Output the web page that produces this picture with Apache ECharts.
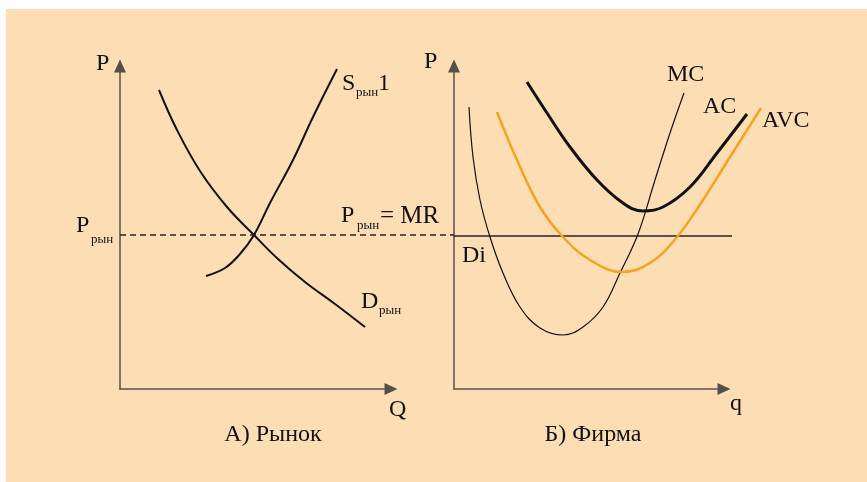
<!DOCTYPE html>
<html>
<head>
<meta charset="utf-8">
<script src="https://cdn.jsdelivr.net/npm/echarts@6/dist/echarts.min.js"></script>
<style>
  html, body { margin: 0; padding: 0; background: #fff; }
  #chart { width: 867px; height: 482px; }
</style>
</head>
<body>
<div id="chart"></div>
<script>
// A) market: [Q, P]
var demandMarket = [[39, 299], [57, 259], [80, 218], [107, 182], [134, 154], [158, 130], [185, 107], [215, 85], [245, 62]];
var supplyMarket = [[86, 113], [105, 121], [120, 135], [134, 154], [150, 186], [173, 229], [193, 272], [217, 320]];
var priceMarket = [[0, 154], [334, 154]];

// B) firm: [q, P]
var mcFirm = [[15, 282], [19, 232], [26, 189], [36, 152], [49, 116], [66, 82], [86, 61], [109, 54], [129, 62], [149, 82], [166, 116], [184, 155], [201, 209], [216, 256], [230, 296]];
var acFirm = [[73, 307], [93, 276], [116, 242], [143, 209], [169, 186], [189, 178], [209, 182], [236, 202], [263, 236], [293, 275]];
var avcFirm = [[43, 277], [63, 229], [86, 182], [109, 152], [136, 129], [168, 117], [196, 126], [223, 152], [249, 189], [276, 232], [307, 281]];
var mrFirm = [[0, 153], [278, 153]];

var chart = echarts.init(document.getElementById("chart"), null, { renderer: "canvas" });

var serif = "Liberation Serif";
var axisColor = "#56504a";

// visible axes with arrows
function axisShown(idx, max) {
  return {
    type: "value", gridIndex: idx, min: 0, max: max,
    axisLine: { show: true, symbol: ["none", "triangle"], symbolSize: [12, 13], lineStyle: { color: axisColor, width: 1.5 } },
    axisTick: { show: false }, axisLabel: { show: false }, splitLine: { show: false }
  };
}
// hidden axes for the curves (wider, so lines may run past the arrows)
function axisHidden(idx, max) {
  return { type: "value", gridIndex: idx, min: 0, max: max, show: false, splitLine: { show: false } };
}

function txt(x, y, s, size, align) {
  return {
    type: "text", x: x, y: y, z: 50,
    style: { text: s, font: size + "px '" + serif + "'", fill: "#111", align: align || "left", verticalAlign: "middle" }
  };
}

function curve(name, grid, data, color, width, extra) {
  var s = {
    name: name, type: "line", xAxisIndex: grid, yAxisIndex: grid, data: data,
    symbol: "none", smooth: 0.4, lineStyle: { color: color, width: width }
  };
  return Object.assign(s, extra || {});
}

var option = {
  backgroundColor: "#fff",
  animation: false,
  grid: [
    { left: 120, top: 66, width: 271, height: 323 },
    { left: 454, top: 66, width: 270, height: 323 },
    { left: 120, top: 66, width: 340, height: 323 },
    { left: 454, top: 66, width: 340, height: 323 }
  ],
  xAxis: [axisShown(0, 271), axisShown(1, 270), axisHidden(2, 340), axisHidden(3, 340)],
  yAxis: [axisShown(0, 323), axisShown(1, 323), axisHidden(2, 323), axisHidden(3, 323)],
  series: [
    curve("D", 2, demandMarket, "#111", 2),
    curve("S", 2, supplyMarket, "#111", 2),
    curve("P", 2, priceMarket, "#222", 1.3, { smooth: false, lineStyle: { color: "#222", width: 1.3, type: [6, 4] } }),
    curve("MR", 3, mrFirm, "#222", 1.5, { smooth: false }),
    curve("MC", 3, mcFirm, "#111", 1.2),
    curve("AVC", 3, avcFirm, "#f4a31e", 2.5),
    curve("AC", 3, acFirm, "#111", 3)
  ],
  graphic: [
    { type: "rect", x: 6, y: 9, z: -10, shape: { width: 861, height: 473 }, style: { fill: "#fddeb4" } },
    txt(96, 64, "P", 24),
    txt(424, 62, "P", 24),
    txt(342, 84, "S", 24), txt(356, 93, "рын", 13), txt(378, 84, "1", 24),
    txt(76, 226, "P", 24), txt(91, 240, "рын", 13),
    txt(341, 216, "P", 24), txt(357, 226, "рын", 13), txt(380, 216, "= MR", 25),
    txt(361, 302, "D", 24), txt(379, 311, "рын", 13),
    txt(389, 410, "Q", 24),
    txt(730, 404, "q", 24),
    txt(273, 435, "А) Рынок", 24, "center"),
    txt(593, 435, "Б) Фирма", 24, "center"),
    txt(667, 75, "MC", 24),
    txt(703, 107, "AC", 24),
    txt(762, 121, "AVC", 24),
    txt(462, 256, "Di", 24)
  ]
};

chart.setOption(option);
</script>
</body>
</html>
